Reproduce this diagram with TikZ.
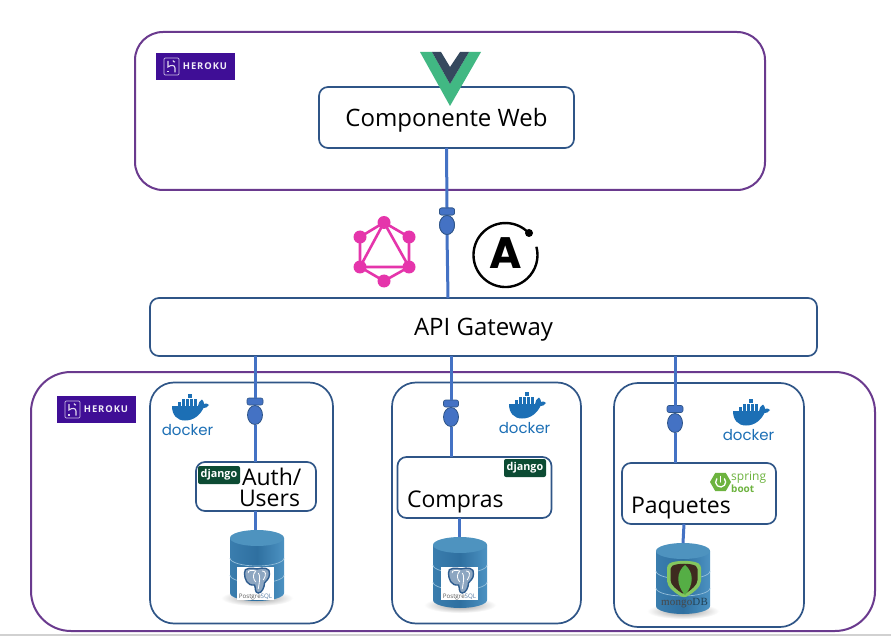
\documentclass[tikz,border=0pt]{standalone}
\usepackage{fontspec}
\setmainfont{Open Sans}
\newfontfamily\mongofont{Liberation Serif}
\newfontfamily\dockfont{Poppins}
\usetikzlibrary{shapes.geometric,calc}
\definecolor{purpleline}{HTML}{6A3A8E}
\definecolor{boxline}{HTML}{2F5587}
\definecolor{connblue}{HTML}{4472C4}
\definecolor{herokubg}{HTML}{3F0E96}
\definecolor{vuegreen}{HTML}{41B883}
\definecolor{vuedark}{HTML}{35495E}
\definecolor{gqlpink}{HTML}{E535AB}
\definecolor{dockblue}{HTML}{1C6FB5}
\definecolor{djangogreen}{HTML}{0C4B33}
\definecolor{springgreen}{HTML}{6DB33F}
\definecolor{pgblue}{HTML}{2F5D8F}
\definecolor{dbleft}{HTML}{3A7DAE}
\definecolor{dbmid}{HTML}{2F70A0}
\definecolor{dbright}{HTML}{4C92C2}
\definecolor{dbtop}{HTML}{4E93BF}
\definecolor{mgouter}{HTML}{84C75F}
\definecolor{mginner}{HTML}{3E2A1F}
\definecolor{mgleaf}{HTML}{55AE45}
\tikzset{
  x=1pt,y=-1pt,
  outerbox/.style={draw=purpleline,line width=2pt,rounded corners=28pt,fill=white,inner sep=0,outer sep=0},
  contbox/.style={draw=boxline,line width=1.7pt,rounded corners=24pt,fill=white,inner sep=0,outer sep=0},
  svcbox/.style={draw=boxline,line width=1.7pt,rounded corners=9pt,fill=white,inner sep=0,outer sep=0,align=center,font=\fontsize{24}{24}\selectfont},
  lbl/.style={inner sep=0,outer sep=0,font=\fontsize{23}{23}\selectfont,anchor=base west},
  conn/.style={draw=connblue,line width=3pt},
  sockcap/.style={fill=connblue,draw=boxline,line width=.6pt,rounded corners=2pt,minimum width=15pt,minimum height=7pt,inner sep=0,outer sep=0},
  sockball/.style={ellipse,fill=connblue,draw=boxline,line width=.8pt,minimum width=15pt,minimum height=19pt,inner sep=0,outer sep=0},
  djbadge/.style={fill=djangogreen,rounded corners=2pt,text=white,minimum width=42pt,minimum height=18pt,inner sep=0,outer sep=0,font=\fontsize{10.8}{10.8}\selectfont\bfseries},
  dbbody/.style={minimum width=54pt,minimum height=70pt,inner sep=0,outer sep=0},
  gqldot/.style={circle,fill=gqlpink,minimum size=13pt,inner sep=0,outer sep=0},
  gqlline/.style={draw=gqlpink,line width=2.6pt},
}
\newcommand{\herokulogo}[3]{%
  \begin{scope}[shift={(#2,#3)}]
    \node[fill=herokubg,minimum width=79pt,minimum height=27pt,inner sep=0,outer sep=0] (#1) at (39.5,13.5) {};
    \draw[draw=white!75!herokubg,line width=.7pt,rounded corners=1.2pt] (8,5) rectangle (23,22);
    \draw[draw=white!85!herokubg,line width=1.1pt] (12,8) -- (12,14) .. controls (15,11.5) and (19,12) .. (19,15) -- (19,19.5);
    \fill[white!85!herokubg] (11.3,18) rectangle (12.7,19.5);
    \draw[draw=white!85!herokubg,line width=1.1pt] (17,7.5) .. controls (17,8.5) and (18,9) .. (19,9);
    \node[text=white!92!herokubg,inner sep=0,font=\fontsize{9.4}{9.4}\selectfont\bfseries\addfontfeature{LetterSpace=10}] (#1txt) at (49,13.5) {HEROKU};
  \end{scope}}
\newcommand{\dockerlogo}[3]{%
  \begin{scope}[shift={(#2,#3)}]
    \fill[dockblue] (-18,-1) -- (8,-1) .. controls (8,-4) and (10,-6) .. (12,-7.5) .. controls (13.5,-6) and (14,-4.5) .. (14,-3.2) .. controls (16,-3.8) and (18,-3.4) .. (19,-2) .. controls (17.5,0.5) and (15.5,1) .. (13.5,1) .. controls (10,8) and (4,13.5) .. (-5,13.5) .. controls (-13,13.5) and (-18,8) .. (-18,-1) -- cycle;
    \foreach \qx in {-12,-8,-4,0,4} \fill[dockblue] (\qx,-4.6) rectangle ++(3.4,3.1);
    \foreach \qx in {-8,-4,0,4} \fill[dockblue] (\qx,-8.4) rectangle ++(3.4,3.2);
    \fill[dockblue] (-2,-13) rectangle ++(3.8,4);
    \node[text=dockblue,inner sep=0,font=\fontsize{15}{15}\dockfont\selectfont] (#1) at (-2.5,23) {docker};
  \end{scope}}
\newcommand{\dbcyl}[3]{% name, x, y of top-ellipse centre
  \shade[inner color=black!40,outer color=white] (#2,#3+60) ellipse[x radius=36pt,y radius=8pt];
  \node[dbbody,anchor=north] (#1) at (#2,#3-8) {};
  \begin{scope}[shift={(#2,#3)}]
    \shade[left color=dbleft,right color=dbright,middle color=dbmid] (-27,0) -- (-27,55) arc[start angle=180,end angle=360,x radius=27pt,y radius=8pt] -- (27,0) -- cycle;
    \draw[dbright!60!white,line width=.7pt] (-27,20) arc[start angle=180,end angle=360,x radius=27pt,y radius=8pt];
    \draw[dbright!60!white,line width=.7pt] (-27,37) arc[start angle=180,end angle=360,x radius=27pt,y radius=8pt];
    \fill[dbtop] (0,0) ellipse[x radius=27pt,y radius=8pt];
  \end{scope}}
\newcommand{\pglogo}[3]{%
  \begin{scope}[shift={(#2,#3)}]
    \node[fill=white,minimum width=37pt,minimum height=33pt,inner sep=0,outer sep=0] (#1) at (18.5,16.5) {};
    \begin{scope}[shift={(-5,0)},xscale=1.25]
    \fill[pgblue!55!white,draw=pgblue,line width=1.4pt] (10,6) .. controls (9,0) and (17,1) .. (20,2) .. controls (25,0) and (31,1) .. (30,7) .. controls (30,12) and (27,14) .. (26,16) .. controls (26,20) and (24,26) .. (21,26) .. controls (18,26) and (19,20) .. (18,18) .. controls (12,19) and (10,12) .. (10,6) -- cycle;
    \draw[white,line width=.8pt] (13,6) .. controls (12,3) and (17,3) .. (19,4) .. controls (16,8) and (17,12) .. (19,15) (21,6) .. controls (23,9) and (22,14) .. (21,22) (24,4) .. controls (27,4) and (28,7) .. (25,13);
    \end{scope}
    \node[inner sep=0,font=\fontsize{6.2}{6.2}\selectfont] (#1txt) at (18.5,29.5) {\textcolor{black!65}{Postgre}\textcolor{pgblue!80!white}{SQL}};
  \end{scope}}
\begin{document}
\begin{tikzpicture}
\useasboundingbox (0,0) rectangle (891,636);
\fill[white] (0,0) rectangle (891,636);
\fill[black!18] (0,634) rectangle (891,636);

% outer Heroku frames
\node[outerbox,minimum width=630pt,minimum height=158pt] (topframe) at (450,111) {};
\node[outerbox,rounded corners=40pt,minimum width=844pt,minimum height=259pt] (botframe) at (453,501.5) {};

% containers
\node[contbox,minimum width=183pt,minimum height=241pt] (contA) at (241.5,503) {};
\node[contbox,minimum width=189pt,minimum height=241pt] (contB) at (486.5,503) {};
\node[contbox,minimum width=190pt,minimum height=244pt] (contC) at (709,505) {};

% boxes
\node[svcbox,minimum width=255pt,minimum height=61pt] (web) at (446.5,117.5) {\raisebox{0pt}[17.2pt][0pt]{Componente Web}};
\node[svcbox,minimum width=667pt,minimum height=58pt] (api) at (483.5,327) {\raisebox{0pt}[17.2pt][0pt]{API Gateway}};
\node[svcbox,minimum width=120pt,minimum height=49pt] (auth) at (256,486.5) {};
\node[svcbox,minimum width=154pt,minimum height=61pt] (compras) at (474.5,487.5) {};
\node[svcbox,minimum width=154pt,minimum height=61pt] (paquetes) at (699,493.5) {};

% logos on top
\herokulogo{herokuTop}{156}{53}
\herokulogo{herokuBot}{57}{396}
\fill[vuegreen] (420,52) -- (432,52) -- (450,84) -- (469,52) -- (481,52) -- (450,106) -- cycle;
\fill[vuedark] (432,52) -- (441,52) -- (450,67) -- (460,52) -- (469,52) -- (450,84) -- cycle;

% sockets
\node[sockcap] (capT) at (447,211.5) {};
\node[sockball] (ballT) at (447,225) {};
\node[sockcap,minimum width=16pt] (capA) at (255,401.5) {};
\node[sockball] (ballA) at (255,415) {};
\node[sockcap] (capB) at (451,403.5) {};
\node[sockball] (ballB) at (451,417) {};
\node[sockcap,minimum width=16pt] (capC) at (675,409) {};
\node[sockball] (ballC) at (675,423) {};

% databases
\dbcyl{dbA}{257}{538}
\dbcyl{dbB}{460}{545}
\dbcyl{dbC}{683}{551}

% connectors
\draw[conn] (web.south) -- (capT.north);
\draw[conn] (ballT.south) -- ($(api.north)+(-35.5,0)$);
\draw[conn] (capA |- api.south) -- (capA.north);
\draw[conn] (ballA.south) -- (ballA |- auth.north);
\draw[conn] (capB |- api.south) -- (capB.north);
\draw[conn] (ballB.south) -- (ballB |- compras.north);
\draw[conn] (capC |- api.south) -- (capC.north);
\draw[conn] (ballC.south) -- (ballC |- paquetes.north);
\draw[conn] ($(auth.south)+(-1,0)$) -- ($(dbA.north)+(-2,0)$);
\draw[conn] ($(compras.south)+(-15.5,0)$) -- ($(dbB.north)+(-1,0)$);
\draw[conn] ($(paquetes.south)+(-15,0)$) -- (dbC.north);
\node[sockcap] at (capT) {};
\node[sockball] at (ballT) {};

% service labels
\node[djbadge] (djA) at (219,475) {django};
\node[djbadge] (djB) at (525,468) {django};
\node[lbl] (authT) at (242,485) {Auth/};
\node[lbl] (usersT) at (239,506) {Users};
\node[lbl] (comprasT) at (407,507) {Compras};
\node[lbl] (paquetesT) at (631,513) {Paquetes};

% spring boot
\node[regular polygon,regular polygon sides=6,fill=springgreen,minimum size=21pt,inner sep=0,outer sep=0] (springhex) at (720.5,482) {};
\draw[white,line width=1.3pt,line cap=round] (716.8,478.8) arc[start angle=140,end angle=400,radius=5pt];
\draw[white,line width=1.3pt,line cap=round] (720.5,476.5) -- (720.5,482);
\node[text=springgreen,inner sep=0,anchor=base west,font=\fontsize{12}{12}\selectfont] (springT) at (731,480) {spring};
\node[text=springgreen,inner sep=0,anchor=base west,font=\fontsize{10}{10}\selectfont\bfseries] (bootT) at (731,492) {boot};

% docker
\dockerlogo{dockA}{190}{407}
\dockerlogo{dockB}{527}{405}
\dockerlogo{dockC}{751}{412}

% db logos
\pglogo{pgA}{237}{567}
\pglogo{pgB}{441}{567}
\fill[mgouter,rounded corners=3pt] (667,565) .. controls (675,560) and (693,560) .. (701,565) -- (701,578) .. controls (701,587) and (693,593) .. (684,598) .. controls (675,593) and (667,587) .. (667,578) -- cycle;
\fill[mginner,rounded corners=2pt] (670.5,567) .. controls (677,563) and (691,563) .. (697.5,567) -- (697.5,578) .. controls (697.5,585) and (691,590) .. (684,594.5) .. controls (677,590) and (670.5,585) .. (670.5,578) -- cycle;
\fill[mgleaf] (685,565) .. controls (694,572) and (694,585) .. (685,595) .. controls (676,585) and (676,572) .. (685,565) -- cycle;
\node[inner sep=0,font=\fontsize{11}{11}\mongofont\selectfont\addfontfeature{LetterSpace=2}] (mongoT) at (684.5,603.5) {\textcolor{black!72}{mongo}\textcolor{dbright!45!black}{DB}};

% GraphQL
\coordinate (g1) at (384,222.5);
\coordinate (g2) at (409,237);
\coordinate (g3) at (409,267);
\coordinate (g4) at (384,281);
\coordinate (g5) at (360,267);
\coordinate (g6) at (360,237);
\draw[gqlline] (g1) -- (g2) -- (g3) -- (g4) -- (g5) -- (g6) -- cycle;
\draw[gqlline] (g1) -- (g3) -- (g5) -- cycle;
\foreach \g in {g1,g2,g3,g4,g5,g6} \node[gqldot] at (\g) {};

% Apollo
\coordinate (apc) at (505.5,253);
\draw[black,line width=2.4pt] (528.9,233.2) arc[start angle=43,end angle=375,radius=32pt];
\fill[black] (529,233) circle[radius=4pt];
\node[inner sep=0,font=\fontsize{44}{44}\dockfont\selectfont\bfseries] (apolloA) at (apc) {A};
\end{tikzpicture}
\end{document}
